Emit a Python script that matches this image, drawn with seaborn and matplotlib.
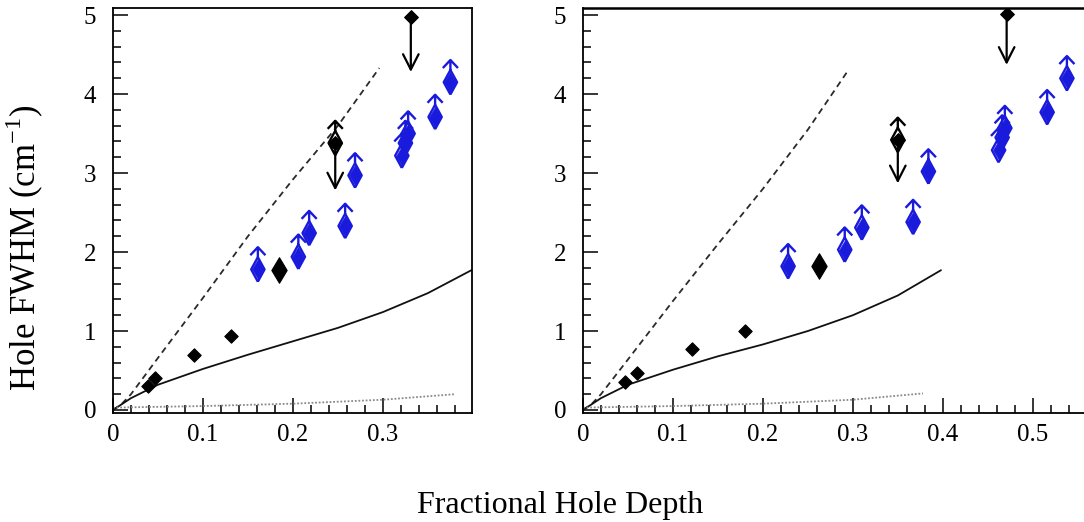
import numpy as np
import pandas as pd
import matplotlib
matplotlib.use("Agg")
import matplotlib.pyplot as plt
from matplotlib.path import Path
from matplotlib.ticker import MultipleLocator, FixedLocator
import seaborn as sns

sns.set_style("ticks")
plt.rcParams['font.family'] = ['Liberation Serif', 'DejaVu Serif']
plt.rcParams['mathtext.fontset'] = 'custom'
plt.rcParams['mathtext.rm'] = 'Liberation Serif'
plt.rcParams['text.color'] = 'black'
plt.rcParams['axes.labelcolor'] = 'black'

# ---------------- data ----------------
# left panel
left_dash_x = [0, 0.01, 0.02, 0.05, 0.1, 0.15, 0.2, 0.25, 0.296]
left_dash_y = [0, 0.08, 0.2, 0.66, 1.42, 2.2, 2.92, 3.6, 4.33]
left_solid_x = [0, 0.02, 0.05, 0.1, 0.15, 0.2, 0.25, 0.3, 0.35, 0.4]
left_solid_y = [0, 0.15, 0.32, 0.52, 0.7, 0.87, 1.04, 1.24, 1.48, 1.78]
left_dot_x = [0, 0.1, 0.2, 0.3, 0.38]
left_dot_y = [0.03, 0.05, 0.08, 0.13, 0.2]
left_black_x = [0.039, 0.047, 0.09, 0.131]
left_black_y = [0.30, 0.40, 0.70, 0.94]
left_big_x = [0.184]
left_big_y = [1.77]
left_limit_x = [0.247, 0.331]
left_limit_y = [3.38, 4.97]
left_limit_to = [2.78, 4.28]
left_limit_up = [True, False]
left_blue_x = [0.161, 0.206, 0.218, 0.258, 0.269, 0.321, 0.325, 0.328, 0.358, 0.375]
left_blue_y = [1.78, 1.94, 2.24, 2.33, 2.97, 3.22, 3.38, 3.50, 3.71, 4.15]

# right panel
right_dash_x = [0, 0.01, 0.02, 0.05, 0.1, 0.15, 0.2, 0.25, 0.293]
right_dash_y = [0, 0.08, 0.2, 0.64, 1.38, 2.1, 2.8, 3.55, 4.27]
right_solid_x = [0, 0.02, 0.05, 0.1, 0.15, 0.2, 0.25, 0.3, 0.35, 0.398]
right_solid_y = [0, 0.15, 0.32, 0.51, 0.68, 0.83, 1.0, 1.2, 1.45, 1.77]
right_dot_x = [0, 0.1, 0.2, 0.3, 0.378]
right_dot_y = [0.03, 0.05, 0.08, 0.13, 0.21]
right_black_x = [0.047, 0.06, 0.121, 0.18]
right_black_y = [0.36, 0.47, 0.77, 1.0]
right_big_x = [0.262]
right_big_y = [1.82]
right_limit_x = [0.35, 0.471]
right_limit_y = [3.42, 5.02]
right_limit_to = [2.87, 4.37]
right_limit_up = [True, False]
right_blue_x = [0.228, 0.291, 0.31, 0.367, 0.384, 0.462, 0.466, 0.469, 0.516, 0.538]
right_blue_y = [1.82, 2.03, 2.31, 2.38, 3.02, 3.29, 3.45, 3.57, 3.77, 4.20]

y_ticks = [0, 1, 2, 3, 4, 5]
left_x_ticks = [0, 0.1, 0.2, 0.3]
left_x_labels = ["0", "0.1", "0.2", "0.3"]
right_x_ticks = [0, 0.1, 0.2, 0.3, 0.4, 0.5]
right_x_labels = ["0", "0.1", "0.2", "0.3", "0.4", "0.5"]
x_label = "Fractional Hole Depth"
y_label = "Hole FWHM (cm$^{-1}$)"

BLUE = "#1a1adc"

# composite marker: hollow diamond + stem + up chevron (diamond centred at origin)
arrow_verts = [(0, -0.55), (0.3, 0), (0, 0.55), (-0.3, 0), (0, -0.55),
               (0, 0.55), (0, 1.0),
               (-0.34, 0.64), (0, 1.0), (0.34, 0.64)]
arrow_codes = [Path.MOVETO, Path.LINETO, Path.LINETO, Path.LINETO, Path.LINETO,
               Path.MOVETO, Path.LINETO,
               Path.MOVETO, Path.LINETO, Path.LINETO]
up_marker = Path(arrow_verts, arrow_codes)
UP_MS = 32

fig = plt.figure(figsize=(10.84, 5.22), dpi=100)
ax1 = fig.add_axes([113 / 1084, 1 - 413 / 522, (472 - 113) / 1084, (413 - 8) / 522])
ax2 = fig.add_axes([583 / 1084, 1 - 413 / 522, (1084 - 583) / 1084, (413 - 8) / 522])


def draw_panel(ax, dash_x, dash_y, solid_x, solid_y, dot_x, dot_y,
               bx, by, bigx, bigy, lx, ly, lto, lup, blx, bly,
               xlim, xticks, xlabels):
    sns.lineplot(x=dash_x, y=dash_y, ax=ax, color="#2a2a2a", lw=1.3,
                 linestyle=(0, (3.5, 2.5)), sort=False)
    sns.lineplot(x=solid_x, y=solid_y, ax=ax, color="#111111", lw=1.3, sort=False)
    sns.lineplot(x=dot_x, y=dot_y, ax=ax, color="#8a8a8a", lw=1.3,
                 linestyle=(0, (1, 1)), sort=False)
    # black diamonds
    sns.scatterplot(x=bx, y=by, ax=ax, marker="D", s=6.8 ** 2, color="black",
                    edgecolor="black", linewidth=0.8, zorder=5)
    sns.scatterplot(x=bigx, y=bigy, ax=ax, marker="d", s=13 ** 2, color="black",
                    edgecolor="black", linewidth=0.8, zorder=5)
    # upper limits (black, arrow down)
    for x, y, t, up in zip(lx, ly, lto, lup):
        ax.annotate("", xy=(x, t), xytext=(x, y),
                    arrowprops=dict(arrowstyle="->,head_length=0.55,head_width=0.28",
                                    lw=1.6, color="black", mutation_scale=20,
                                    shrinkA=0, shrinkB=0), zorder=4)
    sns.scatterplot(x=lx, y=ly, ax=ax, marker="D", s=7 ** 2, color="black",
                    edgecolor="black", linewidth=0.8, zorder=6)
    upx = [x for x, u in zip(lx, lup) if u]
    upy = [y for y, u in zip(ly, lup) if u]
    if upx:
        ax.scatter(upx, upy, marker=up_marker, s=UP_MS ** 2, facecolors="none",
                   edgecolors="black", linewidths=1.7, zorder=6)
    # blue points
    sns.scatterplot(x=blx, y=bly, ax=ax, marker="d", s=10 ** 2, color=BLUE,
                    edgecolor=BLUE, linewidth=0.5, zorder=5)
    ax.scatter(blx, bly, marker=up_marker, s=UP_MS ** 2, facecolors="none",
               edgecolors=BLUE, linewidths=1.7, zorder=5)

    ax.set_xlim(*xlim)
    ax.set_ylim(-0.038, 5.09)
    ax.xaxis.set_major_locator(FixedLocator(xticks))
    ax.set_xticklabels(xlabels)
    ax.xaxis.set_minor_locator(MultipleLocator(0.02))
    ax.yaxis.set_major_locator(FixedLocator(y_ticks))
    ax.yaxis.set_minor_locator(MultipleLocator(0.2))
    ax.tick_params(which="both", direction="in", top=False, right=False,
                   colors="black", labelsize=18, width=1.1)
    ax.tick_params(which="major", length=11)
    ax.tick_params(which="minor", length=5.5)
    ax.tick_params(axis="y", pad=12)
    ax.tick_params(axis="x", pad=8)
    for sp in ax.spines.values():
        sp.set_linewidth(1.3)
        sp.set_color("black")
    ax.set_xlabel("")
    ax.set_ylabel("")


draw_panel(ax1, left_dash_x, left_dash_y, left_solid_x, left_solid_y,
           left_dot_x, left_dot_y, left_black_x, left_black_y,
           left_big_x, left_big_y, left_limit_x, left_limit_y, left_limit_to,
           left_limit_up, left_blue_x, left_blue_y, (0, 0.399),
           left_x_ticks, left_x_labels)
draw_panel(ax2, right_dash_x, right_dash_y, right_solid_x, right_solid_y,
           right_dot_x, right_dot_y, right_black_x, right_black_y,
           right_big_x, right_big_y, right_limit_x, right_limit_y, right_limit_to,
           right_limit_up, right_blue_x, right_blue_y, (0, 0.557),
           right_x_ticks, right_x_labels)
ax2.spines["right"].set_visible(False)
ax2.spines["top"].set_linewidth(1.8)

fig.text(560 / 1084, 1 - 505 / 522, x_label, ha="center", va="center",
         fontsize=23, color="black")
fig.text(25 / 1084, 1 - 248 / 522, y_label, ha="center", va="center",
         rotation=90, fontsize=25, color="black")

fig.savefig("out.png", dpi=100)
